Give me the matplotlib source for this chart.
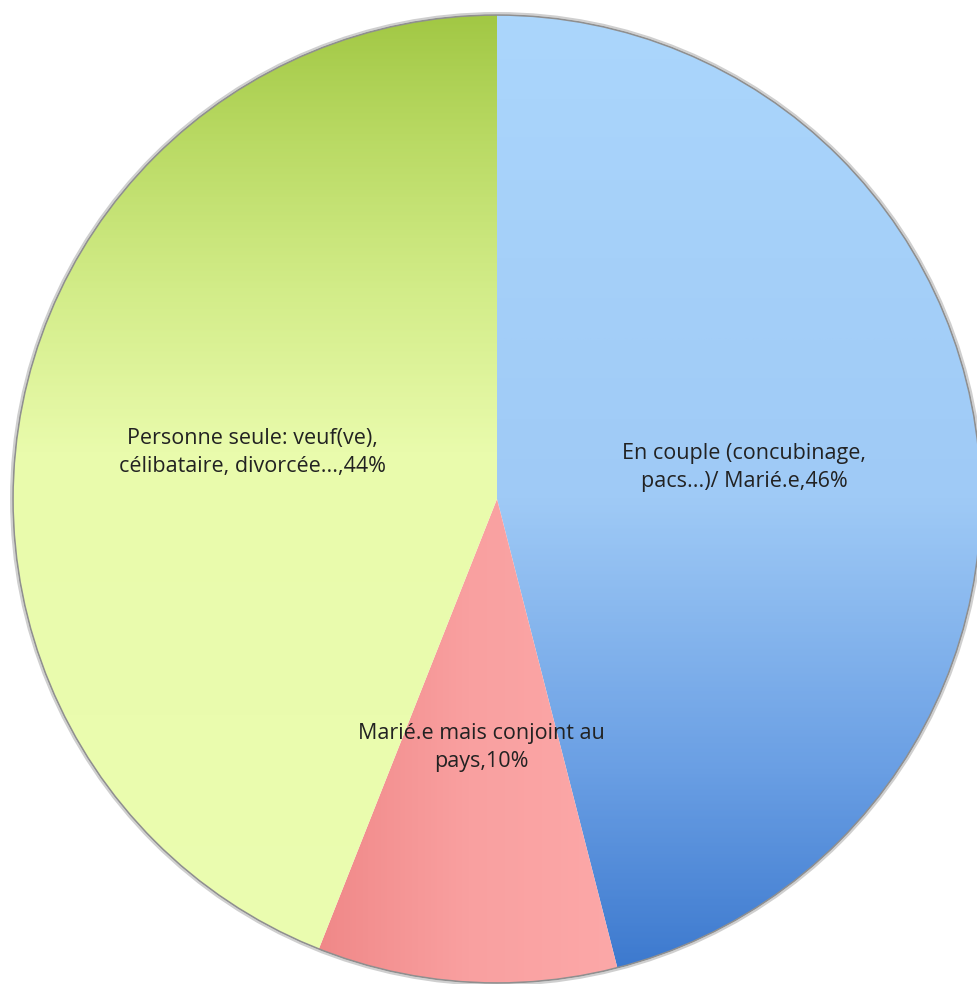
import numpy as np
import matplotlib
matplotlib.use("Agg")
import matplotlib.pyplot as plt
from matplotlib.colors import LinearSegmentedColormap
from matplotlib.patches import Circle

# Situation familiale
categories = ["En couple (concubinage,\npacs...)/ Marié.e",
              "Marié.e mais conjoint au\npays",
              "Personne seule: veuf(ve),\ncélibataire, divorcée..."]
values = [46, 10, 44]

W, H, DPI = 977, 984, 100
CX, CY, R = 497, 499, 484  # pie centre and radius in pixels

fig = plt.figure(figsize=(W / DPI, H / DPI), dpi=DPI)
ax = fig.add_axes([0, 0, 1, 1])

wedges, texts = ax.pie(
    values,
    labels=[f"{c},{v}%" for c, v in zip(categories, values)],
    startangle=90, counterclock=False, radius=1.0,
    labeldistance=0.515, frame=True,
    textprops=dict(fontsize=15.5, color="#222222", family=["Open Sans", "DejaVu Sans"]),
)
ax.set_aspect("equal")
ax.axis("off")

for t in texts:
    t.set_horizontalalignment("center")
    t.set_verticalalignment("center")
    t.set_linespacing(1.42)
    t.set_zorder(10)

# gradient fills for each slice
n = 400
ys = np.linspace(1, -1, n)[:, None] * np.ones((1, n))
xs = np.ones((n, 1)) * np.linspace(-1, 1, n)[None, :]

blue_cm = LinearSegmentedColormap.from_list(
    "b", [(0.0, "#3a77cd"), (0.22, "#6a9fe4"), (0.5, "#9fcaf6"), (1.0, "#abd6fc")])
green_cm = LinearSegmentedColormap.from_list(
    "g", [(0.0, "#ebfdb0"), (0.55, "#e9fbac"), (0.72, "#d2ec88"), (0.88, "#b8d962"), (1.0, "#a2c845")])
pink_cm = LinearSegmentedColormap.from_list(
    "p", [(0.0, "#f08888"), (0.5, "#f9a0a0"), (1.0, "#fca8a8")])

fills = [
    blue_cm((ys + 1) / 2),
    pink_cm(np.clip((xs + 0.37) / 0.62, 0, 1)),
    green_cm((ys + 1) / 2),
]

for w, img in zip(wedges, fills):
    w.set_facecolor("none")
    w.set_edgecolor("none")
    im = ax.imshow(img, extent=(-1, 1, -1, 1), origin="upper",
                   interpolation="bilinear", zorder=1)
    im.set_clip_path(w)

ax.set_aspect("equal")
ax.set_xlim((0 - CX) / R, (W - CX) / R)
ax.set_ylim(-(H - CY) / R, CY / R)

# soft outline around the pie
ax.add_patch(Circle((0, 0), 1.0, fill=False, edgecolor="#8f8f8f", lw=1.2, zorder=3))
ax.add_patch(Circle((0, 0), 1.004, fill=False, edgecolor="#cfcfcf", lw=1.5, zorder=2))

fig.savefig("out.png", dpi=DPI)
